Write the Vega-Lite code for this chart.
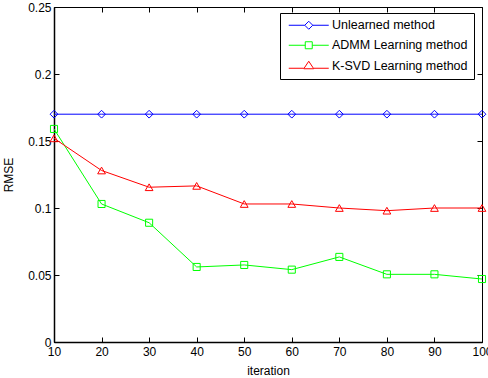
{
  "$schema": "https://vega.github.io/schema/vega-lite/v6.json",
  "width": 428,
  "height": 335,
  "autosize": "none",
  "padding": {"left": 54, "top": 7, "right": 6, "bottom": 36},
  "background": "white",
  "config": {
    "font": "Liberation Sans",
    "view": {"stroke": "black", "strokeWidth": 1},
    "axis": {"grid": false, "domainColor": "black", "tickColor": "black", "labelColor": "black", "titleColor": "black", "labelFontSize": 12, "titleFontSize": 12, "titleFontWeight": "normal", "labelFont": "Liberation Sans", "titleFont": "Liberation Sans", "labelFlush": false, "labelOverlap": false},
    "legend": {"labelFont": "Liberation Sans"}
  },
  "data": {"values": [
    {"iteration": 10, "method": "Unlearned method", "rmse": 0.170},
    {"iteration": 20, "method": "Unlearned method", "rmse": 0.170},
    {"iteration": 30, "method": "Unlearned method", "rmse": 0.170},
    {"iteration": 40, "method": "Unlearned method", "rmse": 0.170},
    {"iteration": 50, "method": "Unlearned method", "rmse": 0.170},
    {"iteration": 60, "method": "Unlearned method", "rmse": 0.170},
    {"iteration": 70, "method": "Unlearned method", "rmse": 0.170},
    {"iteration": 80, "method": "Unlearned method", "rmse": 0.170},
    {"iteration": 90, "method": "Unlearned method", "rmse": 0.170},
    {"iteration": 100, "method": "Unlearned method", "rmse": 0.170},
    {"iteration": 10, "method": "ADMM Learning method", "rmse": 0.159},
    {"iteration": 20, "method": "ADMM Learning method", "rmse": 0.103},
    {"iteration": 30, "method": "ADMM Learning method", "rmse": 0.089},
    {"iteration": 40, "method": "ADMM Learning method", "rmse": 0.056},
    {"iteration": 50, "method": "ADMM Learning method", "rmse": 0.0575},
    {"iteration": 60, "method": "ADMM Learning method", "rmse": 0.054},
    {"iteration": 70, "method": "ADMM Learning method", "rmse": 0.0635},
    {"iteration": 80, "method": "ADMM Learning method", "rmse": 0.0505},
    {"iteration": 90, "method": "ADMM Learning method", "rmse": 0.0505},
    {"iteration": 100, "method": "ADMM Learning method", "rmse": 0.047},
    {"iteration": 10, "method": "K-SVD Learning method", "rmse": 0.152},
    {"iteration": 20, "method": "K-SVD Learning method", "rmse": 0.128},
    {"iteration": 30, "method": "K-SVD Learning method", "rmse": 0.1155},
    {"iteration": 40, "method": "K-SVD Learning method", "rmse": 0.1165},
    {"iteration": 50, "method": "K-SVD Learning method", "rmse": 0.103},
    {"iteration": 60, "method": "K-SVD Learning method", "rmse": 0.103},
    {"iteration": 70, "method": "K-SVD Learning method", "rmse": 0.100},
    {"iteration": 80, "method": "K-SVD Learning method", "rmse": 0.098},
    {"iteration": 90, "method": "K-SVD Learning method", "rmse": 0.100},
    {"iteration": 100, "method": "K-SVD Learning method", "rmse": 0.100}
  ]},
  "layer": [
    {
      "mark": {"type": "line", "strokeWidth": 1},
      "encoding": {
        "x": {"field": "iteration", "type": "quantitative", "scale": {"domain": [10, 100], "nice": false, "zero": false},
          "axis": {"orient": "bottom", "values": [10,20,30,40,50,60,70,80,90,100], "title": "iteration", "tickSize": -5, "labelPadding": 9, "titlePadding": 8, "domainWidth": 1.5}},
        "y": {"field": "rmse", "type": "quantitative", "scale": {"domain": [0, 0.25], "nice": false},
          "axis": {"orient": "left", "values": [0, 0.05, 0.1, 0.15, 0.2, 0.25], "format": ".2~f", "title": "RMSE", "tickSize": -5, "labelPadding": 8, "titlePadding": 12, "domainWidth": 1.5}},
        "color": {"field": "method", "type": "nominal",
          "scale": {"domain": ["Unlearned method", "ADMM Learning method", "K-SVD Learning method"], "range": ["#0000ff", "#00ff00", "#ff0000"]},
          "legend": {"title": null, "orient": "none", "legendX": 226, "legendY": 6, "padding": 6, "strokeColor": "black", "fillColor": "white", "cornerRadius": 0,
            "labelFontSize": 12.5, "labelColor": "black", "labelOffset": 17, "symbolOffset": 16.5, "rowPadding": 7, "symbolSize": 100, "symbolStrokeWidth": 1,
            "encode": {
              "symbols": {"update": {
              "shape": {"signal": "datum.label === 'Unlearned method' ? 'M-4,0H-0.8M0.8,0H4M0,-0.8L0.8,0L0,0.8L-0.8,0Z' : datum.label === 'ADMM Learning method' ? 'M-4,0H-0.7M0.7,0H4M-0.7,-0.7H0.7V0.7H-0.7Z' : 'M-4,0.4H-1M1,0.4H4M-1,0.5L0,-1L1,0.5Z'"},
              "fill": {"value": "transparent"}
            }}}}}
      }
    },
    {
      "transform": [{"filter": "datum.method === 'Unlearned method'"}],
      "mark": {"type": "point", "shape": "diamond", "filled": false, "strokeWidth": 1, "size": 60, "opacity": 1, "color": "#0000ff"},
      "encoding": {
        "x": {"field": "iteration", "type": "quantitative", "axis": {"orient": "top", "values": [10,20,30,40,50,60,70,80,90,100], "labels": false, "title": null, "tickSize": -5, "domain": false}},
        "y": {"field": "rmse", "type": "quantitative", "axis": {"orient": "right", "values": [0, 0.05, 0.1, 0.15, 0.2, 0.25], "labels": false, "title": null, "tickSize": -5, "domain": false}}
      }
    },
    {
      "transform": [{"filter": "datum.method === 'ADMM Learning method'"}],
      "mark": {"type": "point", "shape": "square", "filled": false, "strokeWidth": 1, "size": 50, "opacity": 1, "color": "#00ff00"},
      "encoding": {
        "x": {"field": "iteration", "type": "quantitative", "axis": null},
        "y": {"field": "rmse", "type": "quantitative", "axis": null}
      }
    },
    {
      "transform": [{"filter": "datum.method === 'K-SVD Learning method'"}],
      "mark": {"type": "point", "shape": "triangle-up", "filled": false, "strokeWidth": 1, "size": 60, "opacity": 1, "color": "#ff0000"},
      "encoding": {
        "x": {"field": "iteration", "type": "quantitative", "axis": null},
        "y": {"field": "rmse", "type": "quantitative", "axis": null}
      }
    }
  ],
  "resolve": {"axis": {"x": "independent", "y": "independent"}}
}
